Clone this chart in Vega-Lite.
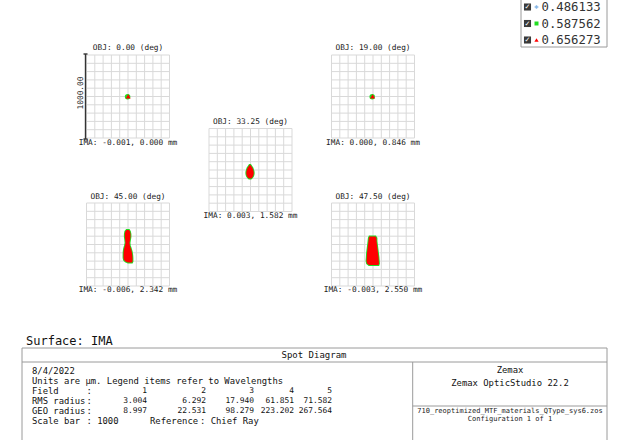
{
  "$schema": "https://vega.github.io/schema/vega-lite/v6.json",
  "width": 643,
  "height": 440,
  "padding": 0,
  "autosize": {"type": "none"},
  "background": "white",
  "config": {"view": {"stroke": null}},
  "datasets": {
    "vgrid": [
      {"xs": [86.5,94.8,103.1,111.4,119.7,128,136.3,144.6,152.9,161.2,169.5], "y": 55, "y2": 138},
      {"xs": [331.5,339.8,348.1,356.4,364.7,373,381.3,389.6,397.9,406.2,414.5], "y": 55, "y2": 138},
      {"xs": [209,217.3,225.6,233.9,242.2,250.5,258.8,267.1,275.4,283.7,292], "y": 128.5, "y2": 211.5},
      {"xs": [86.5,94.8,103.1,111.4,119.7,128,136.3,144.6,152.9,161.2,169.5], "y": 203, "y2": 286},
      {"xs": [331.5,339.8,348.1,356.4,364.7,373,381.3,389.6,397.9,406.2,414.5], "y": 203, "y2": 286}
    ],
    "hgrid": [
      {"ys": [55,63.3,71.6,79.9,88.2,96.5,104.8,113.1,121.4,129.7,138], "x": 86.5, "x2": 169.5},
      {"ys": [55,63.3,71.6,79.9,88.2,96.5,104.8,113.1,121.4,129.7,138], "x": 331.5, "x2": 414.5},
      {"ys": [128.5,136.8,145.1,153.4,161.7,170,178.3,186.6,194.9,203.2,211.5], "x": 209, "x2": 292},
      {"ys": [203,211.3,219.6,227.9,236.2,244.5,252.8,261.1,269.4,277.7,286], "x": 86.5, "x2": 169.5},
      {"ys": [203,211.3,219.6,227.9,236.2,244.5,252.8,261.1,269.4,277.7,286], "x": 331.5, "x2": 414.5}
    ],
    "lines": [
      {"k": "table", "x": 22, "x2": 607, "y": 348, "y2": 348},
      {"k": "table", "x": 22, "x2": 607, "y": 362, "y2": 362},
      {"k": "table", "x": 22, "x2": 22, "y": 348, "y2": 442},
      {"k": "table", "x": 607, "x2": 607, "y": 348, "y2": 442},
      {"k": "table", "x": 412.7, "x2": 412.7, "y": 362, "y2": 442},
      {"k": "table", "x": 412.7, "x2": 607, "y": 406, "y2": 406},
      {"k": "bar", "x": 85.5, "x2": 85.5, "y": 54, "y2": 139},
      {"k": "bar", "x": 83.5, "x2": 87.5, "y": 54, "y2": 54},
      {"k": "bar", "x": 83.5, "x2": 87.5, "y": 139, "y2": 139}
    ],
    "box": [
      {"x": 521, "x2": 607, "y": -2, "y2": 47}
    ],
    "spots": [
      {"p": 3, "y": 165, "x": 249.5, "x2": 250.5},
      {"p": 3, "y": 166.5, "x": 248.5, "x2": 251.5},
      {"p": 3, "y": 168, "x": 247.5, "x2": 252.5},
      {"p": 3, "y": 170, "x": 246.8, "x2": 253.2},
      {"p": 3, "y": 172, "x": 246.3, "x2": 253.7},
      {"p": 3, "y": 174, "x": 246.3, "x2": 253.7},
      {"p": 3, "y": 176, "x": 246.8, "x2": 253.2},
      {"p": 3, "y": 177.5, "x": 247.8, "x2": 252.2},
      {"p": 3, "y": 178.5, "x": 249, "x2": 251},
      {"p": 4, "y": 230, "x": 126.5, "x2": 129},
      {"p": 4, "y": 231.5, "x": 125.3, "x2": 130},
      {"p": 4, "y": 234, "x": 124.8, "x2": 130.5},
      {"p": 4, "y": 237, "x": 124.8, "x2": 130.5},
      {"p": 4, "y": 240, "x": 125.2, "x2": 130},
      {"p": 4, "y": 243, "x": 125.5, "x2": 129.5},
      {"p": 4, "y": 246, "x": 124.8, "x2": 130},
      {"p": 4, "y": 249, "x": 124, "x2": 131},
      {"p": 4, "y": 252, "x": 123.6, "x2": 131.8},
      {"p": 4, "y": 255, "x": 123.5, "x2": 132.3},
      {"p": 4, "y": 258, "x": 123.5, "x2": 132.5},
      {"p": 4, "y": 260, "x": 124, "x2": 132.5},
      {"p": 4, "y": 261.5, "x": 125.5, "x2": 132.5},
      {"p": 4, "y": 262.5, "x": 128, "x2": 132},
      {"p": 5, "y": 236.5, "x": 369.5, "x2": 375.5},
      {"p": 5, "y": 238, "x": 368.8, "x2": 376.5},
      {"p": 5, "y": 241, "x": 368.5, "x2": 376.5},
      {"p": 5, "y": 245, "x": 368, "x2": 377},
      {"p": 5, "y": 249, "x": 367.5, "x2": 377.5},
      {"p": 5, "y": 253, "x": 367, "x2": 378},
      {"p": 5, "y": 257, "x": 366.8, "x2": 378.5},
      {"p": 5, "y": 261, "x": 366.5, "x2": 378.8},
      {"p": 5, "y": 263.5, "x": 367, "x2": 379},
      {"p": 5, "y": 265, "x": 369, "x2": 378.5}
    ],
    "pts": [
      {"s": "green", "x": 127.6, "y": 96.7},
      {"s": "red", "x": 128.2, "y": 96.4},
      {"s": "green", "x": 372.2, "y": 96.7},
      {"s": "red", "x": 372.6, "y": 96.3},
      {"s": "lblue", "x": 536.5, "y": 7},
      {"s": "lgreen", "x": 536.5, "y": 23.5},
      {"s": "lred", "x": 536.5, "y": 40},
      {"s": "check", "x": 527.5, "y": 7},
      {"s": "check", "x": 527.5, "y": 23.5},
      {"s": "check", "x": 527.5, "y": 40}
    ],
    "txt": [
      {"k": "panel", "x": 128, "y": 48, "t": "OBJ: 0.00 (deg)"},
      {"k": "panel", "x": 373, "y": 48, "t": "OBJ: 19.00 (deg)"},
      {"k": "panel", "x": 250.5, "y": 122, "t": "OBJ: 33.25 (deg)"},
      {"k": "panel", "x": 128, "y": 196.5, "t": "OBJ: 45.00 (deg)"},
      {"k": "panel", "x": 373, "y": 196.5, "t": "OBJ: 47.50 (deg)"},
      {"k": "panel", "x": 128, "y": 142.5, "t": "IMA: -0.001, 0.000 mm"},
      {"k": "panel", "x": 373, "y": 142.5, "t": "IMA: 0.000, 0.846 mm"},
      {"k": "panel", "x": 250.5, "y": 216, "t": "IMA: 0.003, 1.582 mm"},
      {"k": "panel", "x": 128, "y": 289.5, "t": "IMA: -0.006, 2.342 mm"},
      {"k": "panel", "x": 373, "y": 289.5, "t": "IMA: -0.003, 2.550 mm"},
      {"k": "sb", "x": 80.5, "y": 93, "t": "1000.00"},
      {"k": "surf", "x": 26, "y": 341, "t": "Surface: IMA"},
      {"k": "head", "x": 314, "y": 355, "t": "Spot Diagram"},
      {"k": "bl", "x": 32, "y": 370.5, "t": "8/4/2022"},
      {"k": "bl", "x": 32, "y": 380.5, "t": "Units are µm. Legend items refer to Wavelengths"},
      {"k": "bl", "x": 32, "y": 390.5, "t": "Field"},
      {"k": "bl", "x": 86.5, "y": 390.5, "t": ":"},
      {"k": "bl", "x": 32, "y": 400.5, "t": "RMS radius"},
      {"k": "bl", "x": 86.5, "y": 400.5, "t": ":"},
      {"k": "bl", "x": 32, "y": 410.5, "t": "GEO radius"},
      {"k": "bl", "x": 86.5, "y": 410.5, "t": ":"},
      {"k": "bl", "x": 32, "y": 420.5, "t": "Scale bar"},
      {"k": "bl", "x": 86.5, "y": 420.5, "t": ": 1000"},
      {"k": "bl", "x": 150, "y": 420.5, "t": "Reference"},
      {"k": "bl", "x": 200, "y": 420.5, "t": ": Chief Ray"},
      {"k": "br", "x": 147, "y": 390.5, "t": "1"},
      {"k": "br", "x": 206, "y": 390.5, "t": "2"},
      {"k": "br", "x": 254, "y": 390.5, "t": "3"},
      {"k": "br", "x": 294, "y": 390.5, "t": "4"},
      {"k": "br", "x": 332, "y": 390.5, "t": "5"},
      {"k": "br", "x": 147, "y": 400.5, "t": "3.004"},
      {"k": "br", "x": 206, "y": 400.5, "t": "6.292"},
      {"k": "br", "x": 254, "y": 400.5, "t": "17.940"},
      {"k": "br", "x": 294, "y": 400.5, "t": "61.851"},
      {"k": "br", "x": 332, "y": 400.5, "t": "71.582"},
      {"k": "br", "x": 147, "y": 410.5, "t": "8.997"},
      {"k": "br", "x": 206, "y": 410.5, "t": "22.531"},
      {"k": "br", "x": 254, "y": 410.5, "t": "98.279"},
      {"k": "br", "x": 294, "y": 410.5, "t": "223.202"},
      {"k": "br", "x": 332, "y": 410.5, "t": "267.564"},
      {"k": "rc", "x": 510, "y": 370, "t": "Zemax"},
      {"k": "rc", "x": 510, "y": 382.5, "t": "Zemax OpticStudio 22.2"},
      {"k": "sm", "x": 510, "y": 410.5, "t": "710_reoptimized_MTF_materials_QType_sys6.zos"},
      {"k": "sm", "x": 510, "y": 418.5, "t": "Configuration 1 of 1"},
      {"k": "lg", "x": 541.5, "y": 7, "t": "0.486133"},
      {"k": "lg", "x": 541.5, "y": 23.5, "t": "0.587562"},
      {"k": "lg", "x": 541.5, "y": 40, "t": "0.656273"}
    ]
  },
  "encoding": {
    "x": {"field": "x", "type": "quantitative", "scale": {"domain": [0, 643], "nice": false, "zero": false}, "axis": null},
    "y": {"field": "y", "type": "quantitative", "scale": {"domain": [0, 440], "nice": false, "zero": false, "reverse": true}, "axis": null}
  },
  "layer": [
    {
      "data": {"name": "vgrid"},
      "transform": [{"flatten": ["xs"], "as": ["x"]}],
      "mark": {"type": "rule", "color": "#d9d9d9", "strokeWidth": 1},
      "encoding": {"y2": {"field": "y2"}}
    },
    {
      "data": {"name": "hgrid"},
      "transform": [{"flatten": ["ys"], "as": ["y"]}],
      "mark": {"type": "rule", "color": "#d9d9d9", "strokeWidth": 1},
      "encoding": {"x2": {"field": "x2"}}
    },
    {
      "data": {"name": "lines"},
      "transform": [{"filter": "datum.k === 'table'"}],
      "mark": {"type": "rule", "color": "#9a9a9a", "strokeWidth": 1},
      "encoding": {"x2": {"field": "x2"}, "y2": {"field": "y2"}}
    },
    {
      "data": {"name": "lines"},
      "transform": [{"filter": "datum.k === 'bar'"}],
      "mark": {"type": "rule", "color": "#333333", "strokeWidth": 1.4},
      "encoding": {"x2": {"field": "x2"}, "y2": {"field": "y2"}}
    },
    {
      "data": {"name": "box"},
      "mark": {"type": "rect", "fill": "white", "stroke": "#9a9a9a", "strokeWidth": 1},
      "encoding": {"x2": {"field": "x2"}, "y2": {"field": "y2"}}
    },
    {
      "data": {"name": "spots"},
      "mark": {"type": "area", "orient": "horizontal", "fill": "#22dd22", "stroke": "#22dd22", "strokeWidth": 1.8, "opacity": 1},
      "encoding": {"x2": {"field": "x2"}, "detail": {"field": "p", "type": "nominal"}}
    },
    {
      "data": {"name": "spots"},
      "mark": {"type": "area", "orient": "horizontal", "fill": "#ff0000", "opacity": 1},
      "encoding": {"x2": {"field": "x2"}, "detail": {"field": "p", "type": "nominal"}}
    },
    {
      "data": {"name": "pts"},
      "transform": [{"filter": "datum.s === 'green'"}],
      "mark": {"type": "point", "shape": "circle", "filled": true, "color": "#22dd22", "size": 30, "opacity": 1}
    },
    {
      "data": {"name": "pts"},
      "transform": [{"filter": "datum.s === 'red'"}],
      "mark": {"type": "point", "shape": "triangle-up", "filled": true, "color": "#ff0000", "size": 24, "opacity": 1}
    },
    {
      "data": {"name": "pts"},
      "transform": [{"filter": "datum.s === 'check'"}],
      "mark": {"type": "point", "shape": "square", "filled": true, "color": "#3a3a3a", "size": 50, "opacity": 1}
    },
    {
      "data": {"name": "pts"},
      "transform": [{"filter": "datum.s === 'check'"}],
      "mark": {"type": "text", "text": "✓", "font": "DejaVu Sans", "fontSize": 7, "color": "white", "align": "center", "baseline": "middle"}
    },
    {
      "data": {"name": "pts"},
      "transform": [{"filter": "datum.s === 'lblue'"}],
      "mark": {"type": "point", "shape": "cross", "filled": true, "color": "#86b6e6", "size": 14, "opacity": 1}
    },
    {
      "data": {"name": "pts"},
      "transform": [{"filter": "datum.s === 'lgreen'"}],
      "mark": {"type": "point", "shape": "square", "filled": true, "color": "#22dd22", "size": 16, "opacity": 1}
    },
    {
      "data": {"name": "pts"},
      "transform": [{"filter": "datum.s === 'lred'"}],
      "mark": {"type": "point", "shape": "triangle-up", "filled": true, "color": "#ff0000", "size": 18, "opacity": 1}
    },
    {
      "data": {"name": "txt"},
      "transform": [{"filter": "datum.k === 'panel'"}],
      "mark": {"type": "text", "font": "DejaVu Sans Mono", "fontSize": 7.8, "color": "#222222", "align": "center", "baseline": "middle"},
      "encoding": {"text": {"field": "t"}}
    },
    {
      "data": {"name": "txt"},
      "transform": [{"filter": "datum.k === 'sb'"}],
      "mark": {"type": "text", "font": "DejaVu Sans Mono", "fontSize": 7.8, "color": "#222222", "align": "center", "baseline": "middle", "angle": 270},
      "encoding": {"text": {"field": "t"}}
    },
    {
      "data": {"name": "txt"},
      "transform": [{"filter": "datum.k === 'surf'"}],
      "mark": {"type": "text", "font": "DejaVu Sans Mono", "fontSize": 12, "color": "#111111", "align": "left", "baseline": "middle"},
      "encoding": {"text": {"field": "t"}}
    },
    {
      "data": {"name": "txt"},
      "transform": [{"filter": "datum.k === 'head'"}],
      "mark": {"type": "text", "font": "DejaVu Sans Mono", "fontSize": 9, "color": "#111111", "align": "center", "baseline": "middle"},
      "encoding": {"text": {"field": "t"}}
    },
    {
      "data": {"name": "txt"},
      "transform": [{"filter": "datum.k === 'bl'"}],
      "mark": {"type": "text", "font": "DejaVu Sans Mono", "fontSize": 8.9, "color": "#111111", "align": "left", "baseline": "middle"},
      "encoding": {"text": {"field": "t"}}
    },
    {
      "data": {"name": "txt"},
      "transform": [{"filter": "datum.k === 'br'"}],
      "mark": {"type": "text", "font": "DejaVu Sans Mono", "fontSize": 7.9, "color": "#111111", "align": "right", "baseline": "middle"},
      "encoding": {"text": {"field": "t"}}
    },
    {
      "data": {"name": "txt"},
      "transform": [{"filter": "datum.k === 'rc'"}],
      "mark": {"type": "text", "font": "DejaVu Sans Mono", "fontSize": 8.9, "color": "#111111", "align": "center", "baseline": "middle"},
      "encoding": {"text": {"field": "t"}}
    },
    {
      "data": {"name": "txt"},
      "transform": [{"filter": "datum.k === 'sm'"}],
      "mark": {"type": "text", "font": "DejaVu Sans Mono", "fontSize": 7, "color": "#222222", "align": "center", "baseline": "middle"},
      "encoding": {"text": {"field": "t"}}
    },
    {
      "data": {"name": "txt"},
      "transform": [{"filter": "datum.k === 'lg'"}],
      "mark": {"type": "text", "font": "DejaVu Sans Mono", "fontSize": 12.3, "color": "#333333", "align": "left", "baseline": "middle"},
      "encoding": {"text": {"field": "t"}}
    }
  ]
}
